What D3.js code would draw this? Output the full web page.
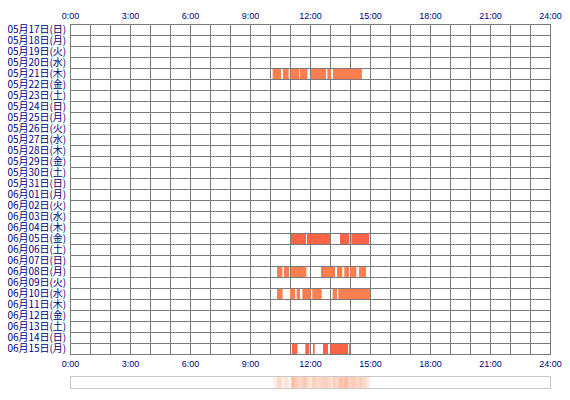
<!DOCTYPE html>
<html lang="ja">
<head>
    <meta charset="UTF-8">
    <title>アクセス時間帯</title>
    <script src="https://cdn.jsdelivr.net/npm/d3@7/dist/d3.min.js"></script>
    <style>
        body { margin: 0; background: #fff; }
        text { fill: #000080; }
    </style>
</head>
<body>
<script>
    // 日付の行ラベル
    var days = ["05月17日(日)", "05月18日(月)", "05月19日(火)", "05月20日(水)", "05月21日(木)",
        "05月22日(金)", "05月23日(土)", "05月24日(日)", "05月25日(月)", "05月26日(火)",
        "05月27日(水)", "05月28日(木)", "05月29日(金)", "05月30日(土)", "05月31日(日)",
        "06月01日(月)", "06月02日(火)", "06月03日(水)", "06月04日(木)", "06月05日(金)",
        "06月06日(土)", "06月07日(日)", "06月08日(月)", "06月09日(火)", "06月10日(水)",
        "06月11日(木)", "06月12日(金)", "06月13日(土)", "06月14日(日)", "06月15日(月)"];

    // 時間軸の目盛り(時)
    var hourTicks = [0, 3, 6, 9, 12, 15, 18, 21, 24];

    // 利用のあった日と、その時間帯 [開始, 終了]
    var activeDays = ["05月21日(木)", "06月05日(金)", "06月08日(月)", "06月10日(水)", "06月15日(月)"];
    var sessions = [
        [["10:08", "10:33"], ["10:39", "10:56"], ["11:02", "11:27"], ["11:30", "11:52"],
            ["12:03", "12:48"], ["12:52", "13:03"], ["13:09", "14:36"]],
        [["11:03", "11:48"], ["11:51", "13:00"], ["13:30", "13:58"], ["14:04", "14:57"]],
        [["10:21", "10:37"], ["10:42", "10:57"], ["11:03", "11:49"], ["12:33", "13:15"],
            ["13:21", "13:37"], ["13:43", "13:57"], ["14:01", "14:19"], ["14:27", "14:48"]],
        [["10:21", "10:38"], ["11:00", "11:15"], ["11:20", "11:30"], ["11:37", "12:02"],
            ["12:07", "12:35"], ["13:08", "13:21"], ["13:25", "15:00"]],
        [["11:06", "11:22"], ["11:46", "11:58"], ["12:09", "12:14"], ["12:39", "12:54"],
            ["13:01", "13:54"], ["13:57", "14:01"]]
    ];

    // 日ごとの色の濃さ
    var dayColor = {"06月05日(金)": "#ff6347", "06月15日(月)": "#ff6347"};
    var baseColor = "#ff7f50";

    var width = 570, height = 400;
    var gLeft = 70, gRight = 550, gTop = 24, gBottom = 354;

    function toHour(s) {
        var p = s.split(":");
        return +p[0] + (+p[1]) / 60;
    }

    var svg = d3.select("body").append("svg")
            .attr("width", width)
            .attr("height", height);

    var x = d3.scaleLinear().domain([0, 24]).range([gLeft, gRight]);
    var y = d3.scaleBand().domain(days).range([gTop, gBottom]);

    // 格子
    var grid = svg.append("g").attr("stroke", "#7a7a7a").attr("stroke-width", 1);
    grid.selectAll("line.v")
            .data(d3.range(0, 25))
            .enter().append("line")
            .attr("class", "v")
            .attr("x1", function (d) { return Math.round(x(d)) + 0.5; })
            .attr("x2", function (d) { return Math.round(x(d)) + 0.5; })
            .attr("y1", gTop)
            .attr("y2", gBottom + 1);
    grid.selectAll("line.h")
            .data(days.concat([null]))
            .enter().append("line")
            .attr("class", "h")
            .attr("x1", gLeft)
            .attr("x2", gRight + 1)
            .attr("y1", function (d) { return (d ? y(d) : gBottom) + 0.5; })
            .attr("y2", function (d) { return (d ? y(d) : gBottom) + 0.5; });

    // 利用時間のバー
    var rows = activeDays.map(function (d, i) {
        return sessions[i].map(function (s) {
            return {day: d, start: toHour(s[0]), end: toHour(s[1])};
        });
    });
    var flat = d3.merge(rows);
    svg.append("g").selectAll("rect")
            .data(flat)
            .enter().append("rect")
            .attr("x", function (d) { return x(d.start); })
            .attr("width", function (d) { return x(d.end) - x(d.start); })
            .attr("y", function (d) { return y(d.day) + 1; })
            .attr("height", y.bandwidth() - 1)
            .attr("fill", function (d) { return dayColor[d.day] || baseColor; });

    // 時刻ラベル(上下)
    var fmt = function (d) { return d + ":00"; };
    var topAxis = svg.append("g")
            .attr("transform", "translate(0,19)")
            .call(d3.axisTop(x).tickValues(hourTicks).tickFormat(fmt).tickSize(0).tickPadding(0));
    var botAxis = svg.append("g")
            .attr("transform", "translate(0,361)")
            .call(d3.axisBottom(x).tickValues(hourTicks).tickFormat(fmt).tickSize(0).tickPadding(0));
    [topAxis, botAxis].forEach(function (a) {
        a.select(".domain").remove();
        a.selectAll("text")
                .attr("font-family", "'Liberation Sans', Arial, sans-serif")
                .attr("font-size", 9)
                .style("fill", "#000080");
    });
    botAxis.selectAll("text").attr("dy", "0.71em");
    topAxis.selectAll("text").attr("dy", "0");

    // 日付ラベル
    var leftAxis = svg.append("g")
            .attr("transform", "translate(66,0)")
            .call(d3.axisLeft(y).tickSize(0).tickPadding(0));
    leftAxis.select(".domain").remove();
    leftAxis.selectAll("text")
            .attr("font-family", "'Noto Sans CJK JP', sans-serif")
            .attr("font-size", 10)
            .attr("letter-spacing", -0.05)
            .style("fill", "#000080");

    // 下の集計帯(3分ごとの利用日数)
    var bins = d3.range(0, 24 * 60, 3).map(function (m) {
        var h = (m + 1.5) / 60;
        var n = flat.filter(function (d) { return d.start <= h && h < d.end; }).length;
        return {h: m / 60, n: n};
    });
    var maxN = d3.max(bins, function (d) { return d.n; });
    var shade = d3.scaleLinear().domain([0, maxN]).range([0, 0.5]);
    svg.append("g").selectAll("rect")
            .data(bins.filter(function (d) { return d.n > 0; }))
            .enter().append("rect")
            .attr("x", function (d) { return x(d.h); })
            .attr("width", x(3 / 60) - x(0))
            .attr("y", 377)
            .attr("height", 11)
            .attr("fill", baseColor)
            .attr("fill-opacity", function (d) { return shade(d.n); });
    svg.append("rect")
            .attr("x", gLeft + 0.5)
            .attr("y", 376.5)
            .attr("width", gRight - gLeft)
            .attr("height", 12)
            .attr("fill", "none")
            .attr("stroke", "#c8c8c8");
</script>
</body>
</html>
